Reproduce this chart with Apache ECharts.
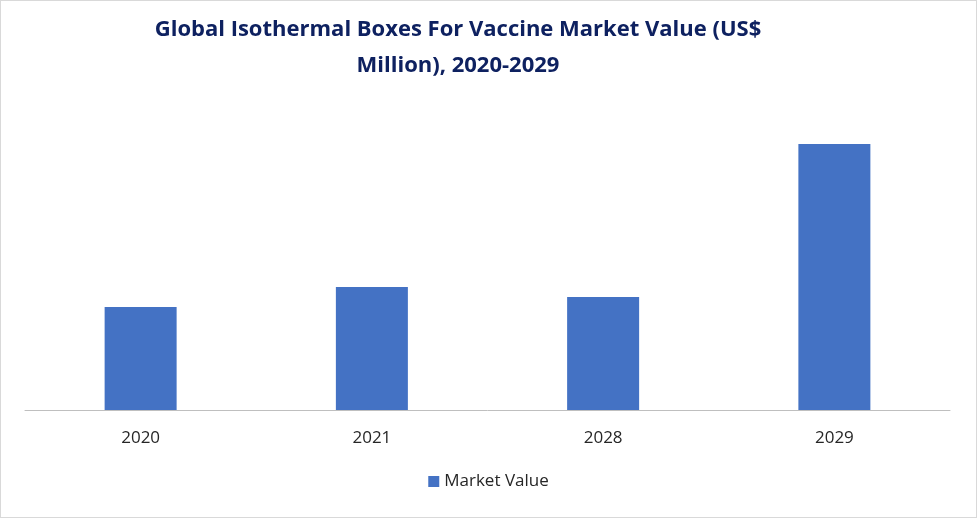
<!DOCTYPE html>
<html><head><meta charset="utf-8">
<script src="https://cdn.jsdelivr.net/npm/echarts@6/dist/echarts.min.js"></script>
<style>html,body{margin:0;padding:0;background:#fff}#c{width:975px;height:516px;border:1px solid #d9d9d9}</style>
</head><body><div id="c"></div>
<script>
const categories = ['2020','2021','2028','2029'];
const marketValue = [103, 123, 113, 266];
const chart = echarts.init(document.getElementById('c'));
chart.setOption({
  animation:false,
  title:{text:'Global Isothermal Boxes For Vaccine Market Value (US$\nMillion), 2020-2029',left:452,top:6,textAlign:'center',
    textStyle:{fontFamily:'Open Sans',fontWeight:'bold',fontSize:22,color:'#0e2160',lineHeight:36}},
  legend:{data:['Market Value'],bottom:22,left:'center',icon:'rect',itemWidth:11,itemHeight:11,
    textStyle:{fontFamily:'Open Sans',fontSize:17,color:'#262626'}},
  grid:{left:24,right:26,top:143,bottom:107},
  xAxis:{type:'category',data:categories,axisTick:{show:false},
    axisLine:{lineStyle:{color:'#bfbfbf'}},
    axisLabel:{fontFamily:'Open Sans',fontSize:17,color:'#262626',margin:20}},
  yAxis:{type:'value',min:0,max:266,show:false,splitLine:{show:false}},
  series:[{name:'Market Value',type:'bar',data:marketValue,barWidth:72,itemStyle:{color:'#4472c4'}}]
});
</script></body></html>
